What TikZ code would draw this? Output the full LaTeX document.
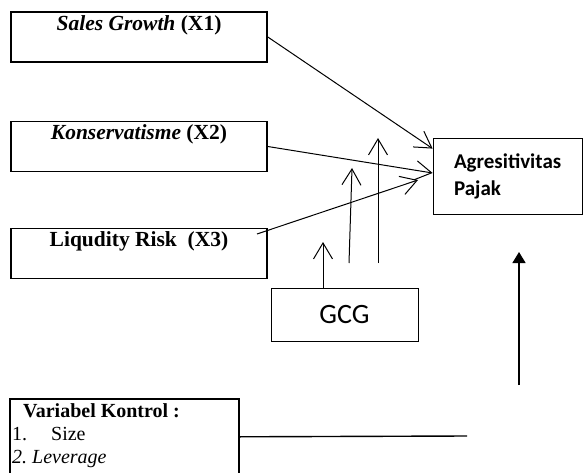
\documentclass[tikz,border=0pt]{standalone}
\usepackage{fontspec}
\setmainfont{Liberation Serif}
\newfontfamily\calibri{Carlito}
\usetikzlibrary{arrows.meta}

\begin{document}
\begin{tikzpicture}[
    x=1pt, y=1pt,
    % Panah terbuka (gaya Word), sedikit lebih tebal dari garis tipis
    panah/.style={line width=1pt, -{Straight Barb[length=16pt, width=19pt]}},
    kotak/.style={draw, line width=1.6pt, minimum width=256pt, minimum height=50pt, inner sep=0pt},
    kotaktipis/.style={draw, line width=0.8pt, inner sep=0pt},
    teks/.style={font=\fontsize{21.5}{24}\selectfont, anchor=north, inner sep=0pt}
]
\useasboundingbox (0,0) rectangle (583,472);

% =========================================================
% === PARAMETER POSISI (satuan = 1 pt, y dari bawah) ===
% =========================================================
\def\kolX{139}     % pusat horizontal kotak X1, X2, X3
\def\geserTeks{4}  % jarak teks dari tepi atas kotak
% =========================================================

% --- Variabel independen (kiri) ---
\node[kotak] (x1) at (\kolX, 435) {};
\node[teks] (x1t) at ([yshift=-\geserTeks pt]x1.north) {\textit{\textbf{Sales Growth}} \textbf{(X1)}};

\node[kotak] (x2) at (\kolX, 325.5) {};
\node[teks] (x2t) at ([yshift=-\geserTeks pt]x2.north) {\textit{\textbf{Konservatisme}} \textbf{(X2)}};

\node[kotak] (x3) at (\kolX, 218.5) {};
\node[teks] (x3t) at ([yshift=-\geserTeks pt]x3.north) {\textbf{Liqudity Risk\ \ (X3)}};

% --- Variabel dependen & moderasi ---
\node[kotaktipis, minimum width=149pt, minimum height=76pt, text width=107pt,
      align=left, font=\calibri\bfseries\fontsize{21}{27}\selectfont] (agr) at (507.5, 296)
      {Agresitivitas\\Pajak};
\node[kotaktipis, minimum width=147pt, minimum height=53pt,
      font=\calibri\fontsize{28}{32}\selectfont] (gcg) at (344.5, 157.5) {GCG};

% --- Variabel kontrol (bawah, terpotong di tepi gambar) ---
\node[draw, line width=1.6pt, minimum width=229pt, minimum height=76pt, anchor=north west,
      inner sep=0pt] (ktr) at (9, 74) {};
\node[anchor=north west, align=left, inner sep=0pt, font=\fontsize{20}{23}\selectfont]
      (ktrt) at ([xshift=3pt, yshift=-5pt]ktr.north west)
      {\hspace*{11pt}\textbf{Variabel Kontrol :}\\1.\hspace{24pt}Size\\\textit{2.\ Leverage}};

% --- Titik bebas untuk ujung panah ---
\coordinate (x3awal) at (257, 238);
\coordinate (x3ujung) at (418, 292);
\coordinate (g1ujung) at (323, 230);
\coordinate (g2awal) at (349, 209);
\coordinate (g2ujung) at (352, 304);
\coordinate (g3awal) at (378, 209);
\coordinate (g3ujung) at (378, 334);
\coordinate (ktrawal) at (519, 87);
\coordinate (ktrujung) at (519, 220);
\coordinate (ktrgaris) at (467, 36);

% --- Panah X -> Y ---
\draw[panah] (x1.east) -- ([yshift=-11pt]agr.north west);
\draw[panah] (x2.east) -- ([yshift=3pt]agr.west);
\draw[panah] (x3awal) -- (x3ujung);

% --- Panah moderasi GCG ---
\draw[panah] ([xshift=-21.5pt]gcg.north) -- (g1ujung);
\draw[panah] (g2awal) -- (g2ujung);
\draw[panah] (g3awal) -- (g3ujung);

% --- Garis & panah variabel kontrol ---
\draw[line width=1.4pt] (ktr.east) -- (ktrgaris);
\draw[line width=1.4pt, -{Triangle[length=11pt, width=13pt]}] (ktrawal) -- (ktrujung);

\end{tikzpicture}
\end{document}
